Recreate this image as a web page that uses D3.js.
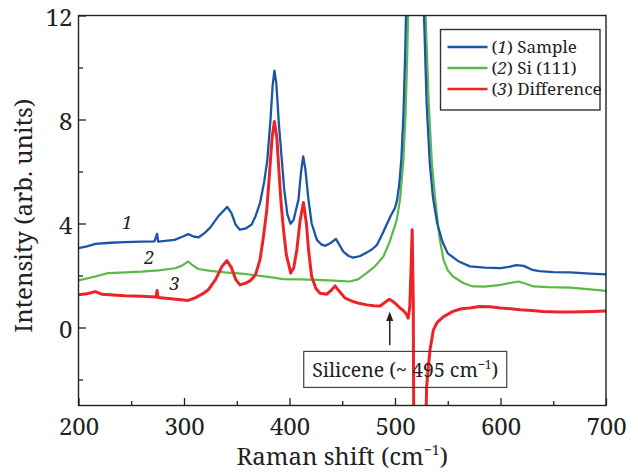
<!DOCTYPE html>
<html lang="en">
<head>
  <meta charset="UTF-8">
  <script src="https://d3js.org/d3.v7.min.js" charset="utf-8"></script>
  <title>Raman spectra</title>
  <style>
    body { margin: 0; background: #fff; }
    svg text { font-family: "Noto Serif", "Liberation Sans", Arial, sans-serif; fill: #222; }
  </style>
</head>
<body>
  <div class="chart"></div>
  <script>
    // Raman shift (cm^-1), intensity (arb. units)
    const sample = [
      [200, 3.05], [208, 3.12], [216, 3.22], [230, 3.26], [244, 3.28], [260, 3.3], [272, 3.31], [274.5, 3.6], [275.5, 3.3],
      [291, 3.37], [299, 3.5], [304, 3.59], [309, 3.5], [314, 3.47], [320, 3.65], [325, 3.85], [333, 4.3],
      [341, 4.64], [345, 4.4], [349, 3.95], [353, 3.76], [358, 3.8], [364, 3.95], [368, 4.3], [372, 4.78],
      [376, 5.6], [379, 6.45], [382, 8.0], [384, 9.3], [385.7, 9.88], [387.5, 9.4], [390, 7.8], [392.7, 6.45],
      [395, 5.3], [398, 4.35], [401, 3.99], [404, 4.15], [406, 4.5], [408.5, 4.91], [411, 6.0], [413, 6.58],
      [415, 6.1], [418, 4.91], [421, 4.0], [426, 3.37], [430, 3.2], [434, 3.14], [439, 3.25], [444, 3.41],
      [447, 3.2], [451, 2.92], [456, 2.75], [460.5, 2.69], [467, 2.75], [473, 2.88], [478, 3.0], [483, 3.18],
      [488, 3.6], [492, 3.95], [496, 4.3], [500, 4.6], [502, 4.9], [504, 5.5], [506, 6.45], [508, 8.2],
      [509.5, 10.3], [511, 13], [514, 22], [517, 40], [520, 60], [523, 38], [525.5, 20], [527.5, 12],
      [530, 8.6], [533, 6.3], [536, 5.0], [540, 4.0], [545, 3.3], [550, 2.85], [560, 2.55], [571, 2.35],
      [585, 2.3], [600, 2.28], [608, 2.33], [615, 2.4], [622, 2.37], [630, 2.22], [637, 2.17], [650, 2.13],
      [666, 2.12], [685, 2.07], [700, 2.04]
    ];
    const silicon = [
      [200, 1.81], [215, 1.95], [228, 2.09], [245, 2.12], [260, 2.15], [276, 2.2], [291.6, 2.28], [298, 2.38],
      [304, 2.54], [308, 2.4], [313.7, 2.25], [325, 2.18], [339, 2.12], [352, 2.08], [364, 2.03], [380, 1.95],
      [394, 1.86], [410, 1.85], [426, 1.83], [442, 1.8], [457, 1.77], [465, 1.85], [473, 2.09], [481, 2.35],
      [489, 2.73], [495, 3.3], [501.7, 4.14], [505, 5.0], [508, 6.45], [510, 8.2], [511.5, 10.3], [513, 13],
      [516, 24], [519, 45], [521, 60], [524, 40], [527, 20], [529, 12], [532, 8.6], [535, 6.3], [538, 5.0],
      [542, 3.5], [546, 2.6], [550, 2.2], [555, 1.96], [565, 1.7], [574, 1.58], [585, 1.57], [600, 1.64],
      [610, 1.72], [617, 1.77], [624, 1.68], [631, 1.58], [645, 1.55], [666, 1.53], [685, 1.47], [700, 1.41]
    ];
    const difference = [
      [200, 1.26], [208, 1.3], [216, 1.38], [222, 1.28], [233, 1.25], [244, 1.22], [260, 1.2], [273.5, 1.17],
      [274.5, 1.42], [275.5, 1.15], [290, 1.1], [297, 1.07], [304, 1.04], [311, 1.15], [318, 1.3], [323, 1.45],
      [330, 1.85], [336, 2.35], [340.6, 2.57], [345, 2.3], [349, 1.85], [353, 1.64], [358, 1.7], [363, 1.8],
      [368, 2.05], [372, 2.6], [375, 3.4], [378.5, 4.53], [381, 5.9], [383.5, 7.3], [385.7, 7.92], [388, 7.3],
      [390, 6.0], [392, 4.8], [394, 3.88], [397, 2.8], [401.2, 2.09], [404, 2.3], [407, 3.0], [410, 4.1],
      [413.2, 4.81], [416, 4.0], [418, 3.0], [421, 1.96], [425, 1.5], [429, 1.32], [435.4, 1.28], [440, 1.45],
      [443.2, 1.6], [447, 1.4], [452.7, 1.13], [460, 1.0], [467, 0.92], [473.3, 0.87], [480, 0.84], [486, 0.83],
      [490, 0.95], [494.7, 1.09], [498, 1.0], [501, 0.9], [504.8, 0.75], [508, 0.65], [511, 0.5], [512.5, 0.36],
      [514, 0.8], [515, 2.0], [516.3, 3.76], [517.3, 1.0], [518, -6], [528, -6], [530, -2.27], [531.6, -1.5],
      [533.2, -0.86], [536.4, -0.09], [540, 0.2], [546, 0.42], [555, 0.62], [563, 0.72], [571, 0.75], [580, 0.81],
      [590, 0.8], [600, 0.75], [610, 0.72], [618.5, 0.68], [630, 0.65], [640, 0.62], [655, 0.6], [666, 0.6],
      [680, 0.61], [700, 0.63]
    ];

    const xTicks = [200, 300, 400, 500, 600, 700];
    const xMinor = [250, 350, 450, 550, 650];
    const yTicks = [0, 4, 8, 12];
    const yMinor = [-2, 2, 6, 10];

    const series = [
      { num: '1', name: 'Sample', data: sample, color: '#1b55a7', width: 2.3 },
      { num: '2', name: 'Si (111)', data: silicon, color: '#5cb947', width: 2.2 },
      { num: '3', name: 'Difference', data: difference, color: '#ec2428', width: 3 }
    ];

    const W = 638, H = 473;
    const m = { left: 78.5, top: 15.5, right: 32, bottom: 67.5 };
    const iw = W - m.left - m.right, ih = H - m.top - m.bottom;

    const svg = d3.select('.chart').append('svg').attr('width', W).attr('height', H);
    const g = svg.append('g').attr('transform', `translate(${m.left},${m.top})`);

    const x = d3.scaleLinear().domain([200, 700]).range([0, iw]);
    const y = d3.scaleLinear().domain([-3, 12]).range([ih, 0]);

    svg.append('defs').append('clipPath').attr('id', 'plot')
      .append('rect').attr('width', iw).attr('height', ih);

    // axes, ticks pointing inward
    g.append('g').attr('transform', `translate(0,${ih})`)
      .call(d3.axisBottom(x).tickValues(xTicks).tickSize(-7.5).tickPadding(12).tickFormat(d3.format('d')));
    g.append('g').attr('transform', `translate(0,${ih})`)
      .call(d3.axisBottom(x).tickValues(xMinor).tickSize(-4.5).tickFormat(''));
    g.append('g').attr('class', 'yaxis')
      .call(d3.axisLeft(y).tickValues(yTicks).tickSize(-7.5).tickPadding(6).tickFormat(d3.format('d')));
    g.append('g')
      .call(d3.axisLeft(y).tickValues(yMinor).tickSize(-4.5).tickFormat(''));

    g.selectAll('.domain').remove();
    g.selectAll('g').attr('font-family', null);
    g.selectAll('.tick line').attr('stroke', '#222').attr('stroke-width', 1.3);
    g.selectAll('.tick text').attr('font-size', 24).attr('fill', '#222');
    g.selectAll('.yaxis .tick text').attr('dy', '0.43em');

    // curves
    const line = d3.line().x(d => x(d[0])).y(d => y(d[1]));
    const curves = g.append('g').attr('clip-path', 'url(#plot)');
    [series[1], series[0], series[2]].forEach(s => {
      curves.append('path').datum(s.data)
        .attr('d', line)
        .attr('fill', 'none')
        .attr('stroke', s.color)
        .attr('stroke-width', s.width)
        .attr('stroke-linejoin', 'round');
    });

    // frame
    g.append('rect').attr('width', iw).attr('height', ih)
      .attr('fill', 'none').attr('stroke', '#222').attr('stroke-width', 1.4);

    // curve numbers
    const curveLabels = [
      { t: '1', v: [246, 3.8] },
      { t: '2', v: [267, 2.45] },
      { t: '3', v: [291, 1.45] }
    ];
    g.selectAll('.clabel').data(curveLabels).join('text')
      .attr('x', d => x(d.v[0])).attr('y', d => y(d.v[1]))
      .attr('text-anchor', 'middle').attr('font-size', 18).attr('font-style', 'italic')
      .text(d => d.t);

    // legend
    const leg = g.append('g').attr('transform', 'translate(362,14)');
    leg.append('rect').attr('x', 0).attr('y', 0).attr('width', 159.5).attr('height', 80.5)
      .attr('fill', '#fff').attr('stroke', '#333').attr('stroke-width', 1.4);
    series.forEach((s, i) => {
      const row = leg.append('g').attr('transform', `translate(0,${17.5 + i * 21})`);
      row.append('line').attr('x1', 7).attr('x2', 47).attr('y1', 0).attr('y2', 0)
        .attr('stroke', s.color).attr('stroke-width', 2.4);
      const t = row.append('text').attr('x', 51).attr('y', 6).attr('font-size', 17);
      t.append('tspan').text('(');
      t.append('tspan').attr('font-style', 'italic').text(s.num);
      t.append('tspan').text(') ' + s.name);
    });

    // silicene annotation
    const ax = x(495);
    g.append('line').attr('x1', ax).attr('x2', ax).attr('y1', y(-0.68)).attr('y2', y(0.35))
      .attr('stroke', '#222').attr('stroke-width', 1.5);
    g.append('path')
      .attr('d', `M${ax},${y(0.62)} L${ax - 3.5},${y(0.25)} L${ax + 3.5},${y(0.25)} Z`)
      .attr('fill', '#222');
    const boxX = ax - 86, boxY = y(-0.92);
    g.append('rect').attr('x', boxX).attr('y', boxY).attr('width', 203).attr('height', 36)
      .attr('fill', 'none').attr('stroke', '#444').attr('stroke-width', 1.2);
    const at = g.append('text').attr('x', boxX + 101.5).attr('y', boxY + 25.5)
      .attr('text-anchor', 'middle').attr('font-size', 19.5);
    at.append('tspan').text('Silicene (~ 495 cm');
    at.append('tspan').attr('font-size', 12).attr('dy', -8).text('\u22121');
    at.append('tspan').attr('dy', 8).text(')');

    // axis titles
    const xt = svg.append('text').attr('x', m.left + iw / 2).attr('y', 465)
      .attr('text-anchor', 'middle').attr('font-size', 24);
    xt.append('tspan').text('Raman shift (cm');
    xt.append('tspan').attr('font-size', 14).attr('dy', -10).text('\u22121');
    xt.append('tspan').attr('dy', 10).text(')');

    svg.append('text')
      .attr('transform', `translate(32,${m.top + y(4.3)}) rotate(-90)`)
      .attr('text-anchor', 'middle').attr('font-size', 24)
      .text('Intensity (arb. units)');
  </script>
</body>
</html>
